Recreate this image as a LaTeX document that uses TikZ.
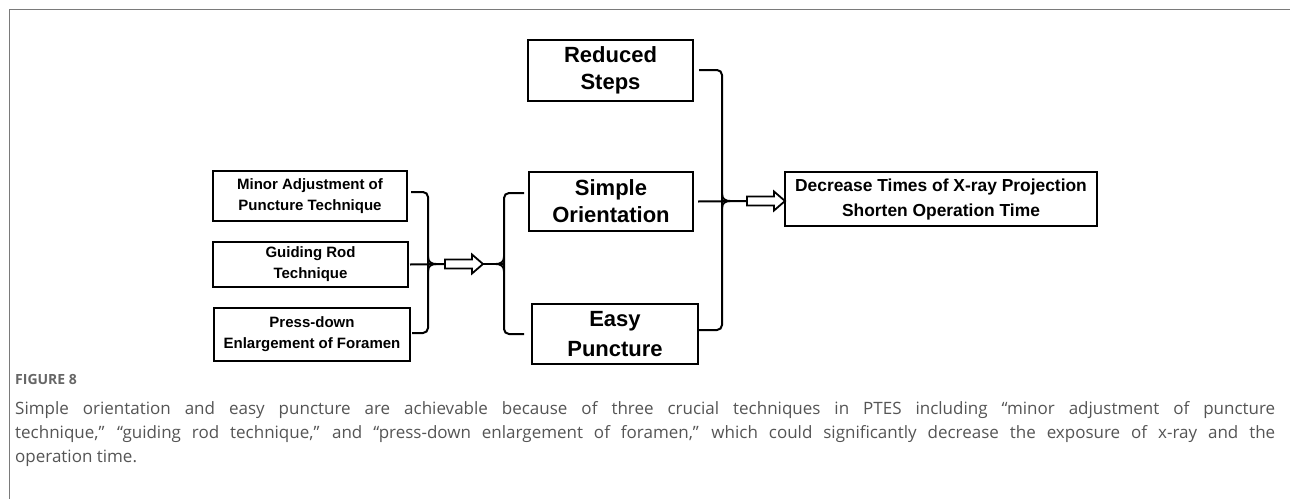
\documentclass[tikz,border=0pt]{standalone}
\usepackage{fontspec}
\setmainfont{Liberation Sans}
\newfontfamily\capfont{Open Sans}
\definecolor{framegray}{HTML}{7A7A7A}
\definecolor{capgray}{HTML}{555555}
\definecolor{figgray}{HTML}{666666}
\begin{document}
\begin{tikzpicture}[x=1pt,y=-1pt,
  boxbase/.style={draw=black, line width=2pt, align=center, inner sep=0pt},
  smallbox/.style={boxbase, font=\bfseries\fontsize{15}{21}\selectfont},
  bigbox/.style={boxbase, font=\bfseries\fontsize{22}{27}\selectfont},
  resbox/.style={boxbase, font=\bfseries\fontsize{17.4}{25}\selectfont},
  conn/.style={line width=2pt, rounded corners=5pt},
  tip/.style={line width=1.8pt},
  capline/.style={anchor=base west, inner sep=0pt, text=capgray, font=\capfont\fontsize{17}{24}\selectfont},
  blockarrow/.pic={\draw[line width=1.8pt, fill=white, line join=miter]
     (0,-4.5) -- (27,-4.5) -- (27,-9.5) -- (38,0) -- (27,9.5) -- (27,4.5) -- (0,4.5) -- cycle;}
]
\useasboundingbox (0,0) rectangle (1290,499);
\fill[white] (0,0) rectangle (1290,499);
\draw[framegray, line width=1pt] (1290,9) -- (9,9) -- (9,499);

% left boxes
\node[smallbox, minimum width=194pt, minimum height=50pt] (A) at (310,196) {Minor Adjustment of\\Puncture Technique};
\node[smallbox, minimum width=195pt, minimum height=45pt] (B) at (310.5,264.5) {Guiding Rod\\Technique};
\node[smallbox, minimum width=196pt, minimum height=53pt] (C) at (312,334.5) {Press-down\\Enlargement of Foramen};

% middle boxes
\node[bigbox, minimum width=165pt, minimum height=61pt] (RS) at (610.5,70.5) {Reduced\\Steps};
\node[bigbox, minimum width=164pt, minimum height=59pt] (SO) at (611,201.5) {Simple\\Orientation};
\node[bigbox, minimum width=166pt, minimum height=60pt, font=\bfseries\fontsize{22}{30}\selectfont] (EP) at (615,334) {Easy\\Puncture};

% result box
\node[resbox, minimum width=312pt, minimum height=54pt] (D) at (941,199) {Decrease Times of X-ray Projection\\Shorten Operation Time};

% junction coordinates
\coordinate (j1) at (428,264);
\coordinate (a1) at (445,264);
\coordinate (a1tip) at (483,264);
\coordinate (j2) at (504,264);
\coordinate (j3) at (722,201);
\coordinate (a2) at (747,201);

% left bracket
\draw[conn] ([xshift=3pt,yshift=4pt]A.east) -| (j1) |- ([xshift=1pt,yshift=1.5pt]C.east);
\draw[line width=2pt] ([xshift=1pt]B.east) -- (a1);
\draw[tip] ([shift={(0,-8)}]j1) .. controls ([shift={(0,-2)}]j1) and ([shift={(3,0)}]j1) .. ([shift={(9,0)}]j1)
  .. controls ([shift={(3,0)}]j1) and ([shift={(0,2)}]j1) .. ([shift={(0,8)}]j1);
\pic (ar1) at (a1) {blockarrow};

% middle bracket
\draw[line width=2pt] (a1tip) -- (j2);
\draw[conn] ([xshift=-4pt,yshift=8.5pt]SO.west) -| (j2) |- ([xshift=-7pt]EP.west);
\draw[tip] ([shift={(0,-8)}]j2) .. controls ([shift={(0,-2)}]j2) and ([shift={(-3,0)}]j2) .. ([shift={(-9,0)}]j2)
  .. controls ([shift={(-3,0)}]j2) and ([shift={(0,2)}]j2) .. ([shift={(0,8)}]j2);

% right bracket
\draw[conn] ([xshift=5pt,yshift=0.5pt]RS.east) -| (j3) |- ([xshift=0pt,yshift=4pt]EP.east);
\draw[line width=2pt] ([xshift=4pt]SO.east) -- (a2);
\draw[tip] ([shift={(0,-8)}]j3) .. controls ([shift={(0,-2)}]j3) and ([shift={(3,0)}]j3) .. ([shift={(9,0)}]j3)
  .. controls ([shift={(3,0)}]j3) and ([shift={(0,2)}]j3) .. ([shift={(0,8)}]j3);
\pic (ar2) at (a2) {blockarrow};

% caption
\node[anchor=base west, inner sep=0pt, text=figgray, font=\capfont\bfseries\fontsize{14}{16}\selectfont] (fig) at (15,384) {FIGURE 8};
\node[capline] (c1) at (15,414) {\hbox to 1260pt{Simple orientation and easy puncture are achievable because of three crucial techniques in PTES including “minor adjustment of puncture}};
\node[capline] (c2) at (15,438) {\hbox to 1260pt{technique,” “guiding rod technique,” and “press-down enlargement of foramen,” which could significantly decrease the exposure of x-ray and the}};
\node[capline] (c3) at (15,462) {operation time.};
\end{tikzpicture}
\end{document}
